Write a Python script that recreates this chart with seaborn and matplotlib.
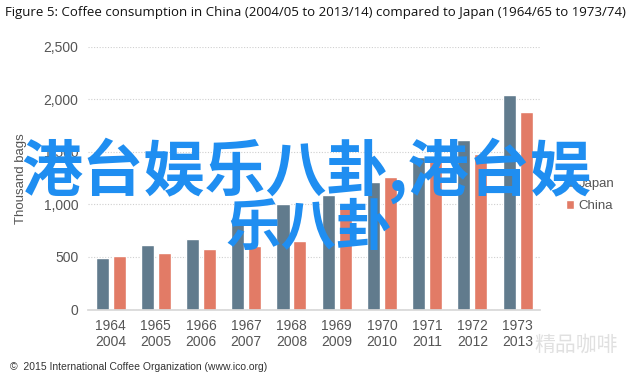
import pandas as pd
import numpy as np
import matplotlib
matplotlib.use("Agg")
import matplotlib.pyplot as plt
import seaborn as sns

# Data (thousand bags)
japan_years = ["1964", "1965", "1966", "1967", "1968", "1969", "1970", "1971", "1972", "1973"]
china_years = ["2004", "2005", "2006", "2007", "2008", "2009", "2010", "2011", "2012", "2013"]
japan = [490, 615, 675, 820, 1000, 1090, 1215, 1455, 1610, 2040]
china = [510, 540, 575, 600, 650, 990, 1265, 1420, 1480, 1875]
tick_labels = [j + "\n" + c for j, c in zip(japan_years, china_years)]

df = pd.DataFrame({
    "period": tick_labels * 2,
    "country": ["Japan"] * len(japan) + ["China"] * len(china),
    "value": japan + china,
})

sns.set_theme(style="white")
plt.rcParams['font.family'] = ['Liberation Sans', 'DejaVu Sans']

fig = plt.figure(figsize=(6.4, 3.77), dpi=100)
ax = fig.add_axes([0.1375, 0.179, 0.7065, 0.697])

sns.barplot(data=df, x="period", y="value", hue="country",
            palette={"Japan": "#617b8d", "China": "#e27b66"},
            width=0.75, gap=0.23, saturation=1, ax=ax)

ax.set_ylim(0, 2500)
ax.set_xlim(-0.5, 9.5)
ax.set_yticks([0, 500, 1000, 1500, 2000, 2500])
ax.set_yticklabels(["0", "500", "1,000", "1,500", "2,000", "2,500"])
ax.yaxis.grid(True, linestyle=(0, (1, 1.5)), color="#cfcfcf", linewidth=0.8)
ax.set_axisbelow(True)
for s in ["top", "right", "left"]:
    ax.spines[s].set_visible(False)
ax.spines["bottom"].set_color("#d8d8d8")
ax.tick_params(axis="both", length=0, labelsize=10, colors="#555555", pad=7)
ax.set_xlabel("")
ax.set_ylabel("Thousand bags", fontsize=9.5, color="#555555", labelpad=12)

ax.legend(loc="upper left", bbox_to_anchor=(1.03, 0.545), frameon=False,
          fontsize=9.5, labelcolor="#555555", handlelength=0.6, handleheight=0.6,
          handletextpad=0.4, labelspacing=0.75)

fig.text(0.008, 0.968, "Figure 5: Coffee consumption in China (2004/05 to 2013/14) "
         "compared to Japan (1964/65 to 1973/74)",
         fontsize=9.5, color="#111111", va="center", family="Open Sans")
fig.text(0.016, 0.027, "©  2015 International Coffee Organization (www.ico.org)",
         fontsize=7.5, color="#333333", va="center")
fig.text(0.835, 0.085, "精品咖啡", fontsize=15, color="#cccccc", alpha=0.6,
         va="center", ha="left", family=["Noto Sans CJK SC", "DejaVu Sans"])

# overlay text
fig.text(0.478, 0.548, "港台娱乐八卦,港台娱", fontsize=44, color="#1f8ef1",
         weight="bold", ha="center", va="center",
         family=["Noto Sans CJK SC", "DejaVu Sans"])
fig.text(0.483, 0.392, "乐八卦", fontsize=40, color="#1f8ef1",
         weight="bold", ha="center", va="center",
         family=["Noto Sans CJK SC", "DejaVu Sans"])

fig.savefig("out.png", dpi=100)
